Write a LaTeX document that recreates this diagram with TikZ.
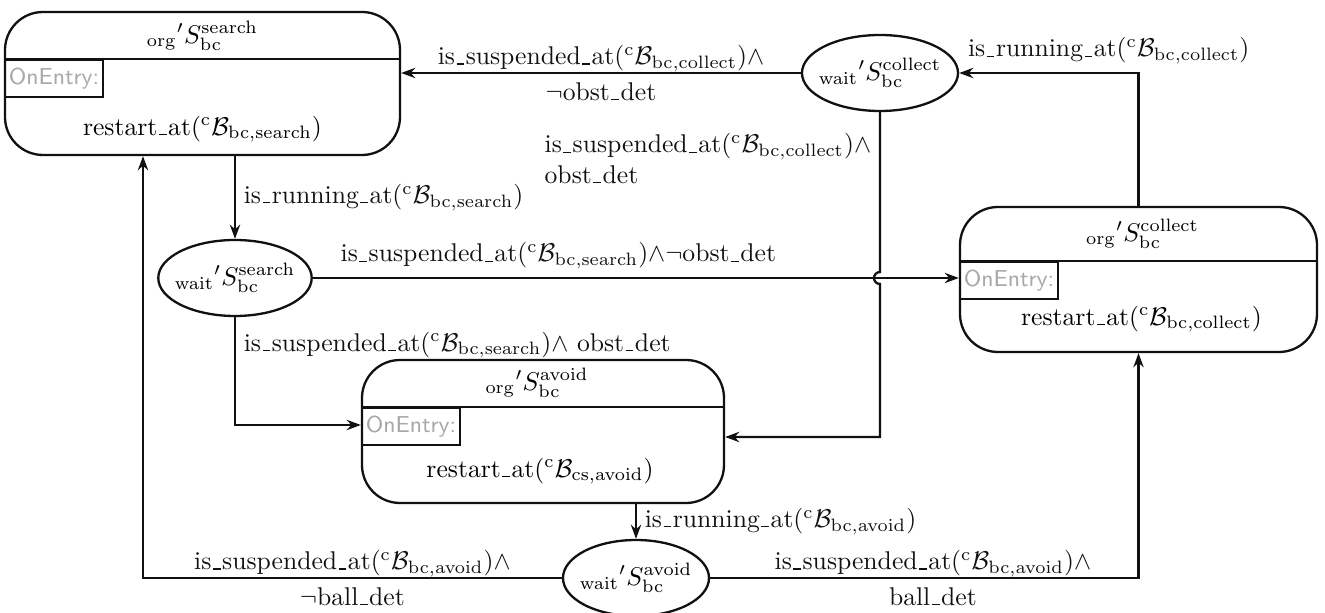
\documentclass[tikz,border=0pt]{standalone}
\usepackage{amsmath}
\usepackage{amssymb}
\usepackage{tikz}
\usetikzlibrary{arrows.meta,positioning,calc,shapes.geometric}
\definecolor{stink}{HTML}{111111}
\definecolor{stgrey}{HTML}{A8A8A8}
\newcommand{\pu}{0.0137cm}
\newcommand{\us}{\leavevmode\kern.06em\vbox{\hrule width.3em}\kern.06em}
\newcommand{\orgS}[1]{${}_{\mathrm{org}}{}'S^{\mathrm{#1}}_{\mathrm{bc}}$}
\newcommand{\waitS}[1]{${}_{\mathrm{wait}}{}'S^{\mathrm{#1}}_{\mathrm{bc}}$}
\newcommand{\cB}[1]{$(^{\mathrm{c}}\mathcal{B}_{\mathrm{#1}})$}

\begin{document}
\begin{tikzpicture}[
        x=\pu, y=-\pu, node distance=2.6mm,
        stline/.style={draw=stink, line width=0.9pt},
        statebox/.style={stline, rounded corners=38*\pu, inner sep=0pt},
        waitbox/.style={stline, ellipse, inner xsep=-6*\pu, inner ysep=0pt,
                        minimum width=146*\pu, minimum height=76*\pu},
        onentry/.style={stline, text=stgrey, font=\sffamily\small,
                        inner sep=1pt, minimum width=98*\pu,
                        minimum height=37*\pu, anchor=north west},
        lbl/.style={inner sep=3pt},
        lbltwo/.style={align=center, inner sep=0pt},
        arr/.style={-{Stealth[length=5.5pt,width=4pt]}, stink, line width=0.9pt}
    ]
        \useasboundingbox (0,0) rectangle (1325,613);
        % org states
        \node[statebox, minimum width=395*\pu, minimum height=143*\pu]
            (so) at (202.5,83.5) {};
        \node (so-t) at ($(so.north)+(0,25)$) {\orgS{search}};
        \coordinate (so-s) at ($(so.north)+(0,48)$);
        \draw[stline] (so.west |- so-s) -- (so.east |- so-s);
        \node[onentry] (so-oe) at (so.west |- so-s) {OnEntry:};
        \node (so-a) at ($(so.south)+(0,-27)$) {restart\us at\cB{bc,search}};

        \node[statebox, minimum width=357*\pu, minimum height=145*\pu]
            (co) at (1138.5,279.5) {};
        \node (co-t) at ($(co.north)+(4,28)$) {\orgS{collect}};
        \coordinate (co-s) at ($(co.north)+(0,55)$);
        \draw[stline] (co.west |- co-s) -- (co.east |- co-s);
        \node[onentry] (co-oe) at (co.west |- co-s) {OnEntry:};
        \node (co-a) at ($(co.south)+(3,-34)$) {restart\us at\cB{bc,collect}};

        \node[statebox, minimum width=362*\pu, minimum height=143*\pu]
            (ao) at (543,431.5) {};
        \node (ao-t) at ($(ao.north)+(-6,24)$) {\orgS{avoid}};
        \coordinate (ao-s) at ($(ao.north)+(0,48)$);
        \draw[stline] (ao.west |- ao-s) -- (ao.east |- ao-s);
        \node[onentry] (ao-oe) at (ao.west |- ao-s) {OnEntry:};
        \node (ao-a) at ($(ao.south)+(-3,-33)$) {restart\us at\cB{cs,avoid}};

        % wait states
        \node[waitbox] (ws) at (235,278) {\waitS{search}};
        \node[waitbox] (wc) at (880,73) {\waitS{collect}};
        \node[waitbox] (wa) at (636,578) {\waitS{avoid}};

        \coordinate (so-in) at ($(so.south)+(-59.5,0)$);
        \coordinate (ao-in1) at ($(ao.west)+(0,-6.5)$);
        \coordinate (ao-in2) at ($(ao.east)+(0,5.5)$);
        \coordinate (hop) at ($(wc.south |- ws.east)+(0,-6)$);

        % transitions
        \draw[arr] (wc.west) -- node[lbltwo]
            {is\us suspended\us at\cB{bc,collect}$\wedge$\\[2pt]$\neg$obst\us det}
            (so.east |- wc.west);
        \draw[arr] (co.north) |- node[lbl, pos=1, anchor=south west]
            {is\us running\us at\cB{bc,collect}} (wc.east);
        \draw[arr] (ws.north |- so.south) -- node[lbl, right]
            {is\us running\us at\cB{bc,search}} (ws.north);
        \draw[arr] (ws.east) -- node[lbl, above, pos=0.38]
            {is\us suspended\us at\cB{bc,search}$\wedge\neg$obst\us det}
            (co.west |- ws.east);
        \draw[arr] (ws.south) |- node[lbl, right, pos=0.13]
            {is\us suspended\us at\cB{bc,search}$\wedge$ obst\us det} (ao-in1);
        \draw[arr] (wc.south) -- node[lbl, left, align=left, pos=0.29]
            {is\us suspended\us at\cB{bc,collect}$\wedge$\\obst\us det} (hop)
            arc[start angle=90, end angle=270, radius=6*\pu]
            -- (wc.south |- ao-in2) -- (ao-in2);
        \draw[arr] (wa.north |- ao.south) -- node[lbl, right]
            {is\us running\us at\cB{bc,avoid}} (wa.north);
        \draw[arr] (wa.west) -| node[lbltwo, pos=0.25]
            {is\us suspended\us at\cB{bc,avoid}$\wedge$\\[2pt]$\neg$ball\us det}
            (so-in);
        \draw[arr] (wa.east) -| node[lbltwo, pos=0.26]
            {is\us suspended\us at\cB{bc,avoid}$\wedge$\\[2pt]ball\us det}
            (co.south);
    \end{tikzpicture}
\end{document}
